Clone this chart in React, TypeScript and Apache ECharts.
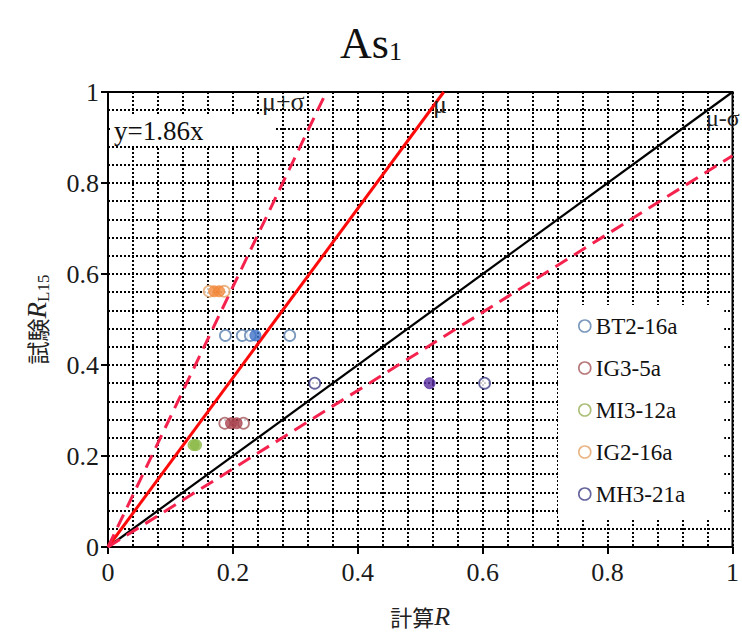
import React, { useEffect, useRef } from "react";
import * as echarts from "echarts";

const SERIF = "'Liberation Serif', 'Times New Roman', 'Noto Sans CJK JP', serif";
const CJK = "'Noto Sans CJK JP', 'Liberation Serif', serif";

// ---- data ----
const sampleNames = ["BT2-16a", "IG3-5a", "MI3-12a", "IG2-16a", "MH3-21a"];
const ringColors = ["#5b7fae", "#a5585a", "#98b05a", "#e3a468", "#3e3f86"];
const fillColors = ["#3e72c8", "#a9434f", "#8dba4a", "#f28a3c", "#5a2ea0"];

const bt2HollowX = [0.188, 0.215, 0.228, 0.291];
const bt2HollowY = [0.465, 0.465, 0.465, 0.465];
const bt2FilledX = [0.236];
const bt2FilledY = [0.465];

const ig3HollowX = [0.187, 0.217];
const ig3HollowY = [0.272, 0.272];
const ig3FilledX = [0.197, 0.206];
const ig3FilledY = [0.272, 0.272];

const mi3HollowX: number[] = [];
const mi3HollowY: number[] = [];
const mi3FilledX = [0.137, 0.141];
const mi3FilledY = [0.224, 0.224];

const ig2HollowX = [0.162, 0.186];
const ig2HollowY = [0.562, 0.562];
const ig2FilledX = [0.170, 0.178];
const ig2FilledY = [0.562, 0.562];

const mh3HollowX = [0.331, 0.603];
const mh3HollowY = [0.36, 0.36];
const mh3FilledX = [0.515];
const mh3FilledY = [0.36];

const hollowX = [bt2HollowX, ig3HollowX, mi3HollowX, ig2HollowX, mh3HollowX];
const hollowY = [bt2HollowY, ig3HollowY, mi3HollowY, ig2HollowY, mh3HollowY];
const filledX = [bt2FilledX, ig3FilledX, mi3FilledX, ig2FilledX, mh3FilledX];
const filledY = [bt2FilledY, ig3FilledY, mi3FilledY, ig2FilledY, mh3FilledY];

// regression slopes
const muSlope = 1.86;
const sigma = 1.0;
const plusSlope = muSlope + sigma;
const minusSlope = muSlope - sigma;

const xTicks = [0, 0.2, 0.4, 0.6, 0.8, 1];

function lineEnd(slope: number): number[][] {
  return slope >= 1 ? [[0, 0], [1 / slope, 1]] : [[0, 0], [1, slope]];
}

export default function App() {
  const ref = useRef<HTMLDivElement>(null);
  useEffect(() => {
    if (!ref.current) return;
    const chart = echarts.init(ref.current, null, { renderer: "svg" });

    const scatterSeries = sampleNames.map((name, i) => {
      const data: any[] = [];
      hollowX[i].forEach((x, k) =>
        data.push({
          value: [x, hollowY[i][k]],
          itemStyle: { color: "#fff", borderColor: ringColors[i], borderWidth: 1.8 },
        })
      );
      filledX[i].forEach((x, k) =>
        data.push({
          value: [x, filledY[i][k]],
          itemStyle: { color: fillColors[i], borderColor: fillColors[i], borderWidth: 1 },
        })
      );
      return {
        name,
        type: "scatter",
        symbol: "circle",
        symbolSize: 11,
        itemStyle: { color: fillColors[i] },
        data,
        z: 5,
      };
    });

    const gridLine = { show: true, lineStyle: { color: "#000", width: 2, type: [2, 2] } };

    const option: any = {
      animation: false,
      backgroundColor: "#fff",
      title: {
        text: "{a|As}{b|1}",
        left: "center",
        top: 12,
        textStyle: {
          fontWeight: "normal",
          rich: {
            a: { fontFamily: SERIF, fontSize: 44, fontWeight: "normal", color: "#111", lineHeight: 48, verticalAlign: "bottom" },
            b: { fontFamily: SERIF, fontSize: 26, fontWeight: "normal", color: "#111", lineHeight: 22, verticalAlign: "bottom" },
          },
        },
      },
      grid: { left: 108, right: 9, top: 92, bottom: 85, show: true, borderColor: "#000", borderWidth: 2 },
      legend: {
        orient: "vertical",
        left: 558,
        top: 305,
        padding: [8, 39, 11, 20],
        backgroundColor: "#fff",
        itemWidth: 12,
        itemHeight: 12,
        itemGap: 16,
        data: sampleNames.map((n, i) => ({
          name: n,
          icon: "circle",
          itemStyle: { color: "#fff", borderColor: ringColors[i], borderWidth: 1.6 },
        })),
        textStyle: { fontFamily: SERIF, fontSize: 23, color: "#111", lineHeight: 24, padding: [2, 0, 0, 0] },
      },
      xAxis: {
        type: "value",
        min: 0,
        max: 1,
        interval: 0.2,
        name: "{a|計算}{b|R}",
        nameLocation: "middle",
        nameGap: 55,
        nameTextStyle: {
          rich: {
            a: { fontFamily: CJK, fontSize: 22, color: "#222", lineHeight: 28 },
            b: { fontFamily: SERIF, fontSize: 26, fontStyle: "italic", color: "#222", lineHeight: 28 },
          },
        },
        axisLine: { show: true, lineStyle: { color: "#000", width: 2 } },
        axisTick: { show: true, inside: false, length: 7, lineStyle: { color: "#000", width: 2 } },
        axisLabel: {
          fontFamily: SERIF,
          fontSize: 26,
          color: "#1a1a1a",
          margin: 12,
          formatter: (v: number) => String(xTicks.find((t) => Math.abs(t - v) < 1e-9) ?? v),
        },
        splitLine: gridLine,
        minorTick: { show: false, splitNumber: 5 },
        minorSplitLine: gridLine,
      },
      yAxis: {
        type: "value",
        min: 0,
        max: 1,
        interval: 0.2,
        name: "{a|試験}{b|R}{c|L15}",
        nameLocation: "middle",
        nameGap: 56,
        nameTextStyle: {
          rich: {
            a: { fontFamily: CJK, fontSize: 23, color: "#222", lineHeight: 30 },
            b: { fontFamily: SERIF, fontSize: 27, fontStyle: "italic", color: "#222", lineHeight: 30 },
            c: { fontFamily: SERIF, fontSize: 17, color: "#222", lineHeight: 13, verticalAlign: "bottom" },
          },
        },
        axisLine: { show: true, lineStyle: { color: "#000", width: 2 } },
        axisTick: { show: true, inside: false, length: 7, lineStyle: { color: "#000", width: 2 } },
        axisLabel: { fontFamily: SERIF, fontSize: 26, color: "#1a1a1a", margin: 9 },
        splitLine: gridLine,
        minorTick: { show: false, splitNumber: 5 },
        minorSplitLine: gridLine,
      },
      graphic: [
        {
          type: "rect",
          z: 10,
          shape: { x: 110, y: 114, width: 165, height: 32 },
          style: { fill: "#fff" },
        },
        {
          type: "text",
          z: 11,
          x: 114,
          y: 131,
          style: {
            text: "y=" + muSlope.toFixed(2) + "x",
            fontFamily: SERIF,
            fontSize: 27,
            fill: "#111",
            verticalAlign: "middle",
          },
        },
        {
          type: "text",
          z: 11,
          x: 262,
          y: 101,
          style: { text: "μ+σ", fontFamily: SERIF, fontSize: 26, fill: "#222", verticalAlign: "middle" },
        },
        {
          type: "text",
          z: 11,
          x: 433,
          y: 104,
          style: { text: "μ", fontFamily: SERIF, fontSize: 26, fill: "#222", verticalAlign: "middle" },
        },
        {
          type: "text",
          z: 11,
          x: 706,
          y: 118,
          style: { text: "μ-σ", fontFamily: SERIF, fontSize: 24, fill: "#222", verticalAlign: "middle" },
        },
      ],
      series: [
        {
          name: "1:1",
          type: "line",
          data: lineEnd(1),
          showSymbol: false,
          silent: true,
          lineStyle: { color: "#000", width: 2.2 },
          z: 3,
        },
        {
          name: "μ",
          type: "line",
          data: lineEnd(muSlope),
          showSymbol: false,
          silent: true,
          lineStyle: { color: "#ff0a0a", width: 3 },
          z: 4,
        },
        {
          name: "μ+σ",
          type: "line",
          data: lineEnd(plusSlope),
          showSymbol: false,
          silent: true,
          lineStyle: { color: "#f5224e", width: 3, type: [14, 8] },
          z: 4,
        },
        {
          name: "μ-σ",
          type: "line",
          data: lineEnd(minusSlope),
          showSymbol: false,
          silent: true,
          lineStyle: { color: "#f5224e", width: 3, type: [14, 8] },
          z: 4,
        },
        ...scatterSeries,
      ],
    };
    chart.setOption(option);
    return () => chart.dispose();
  }, []);

  return (
    <div
      ref={ref}
      style={{ position: "absolute", left: 0, top: 0, width: 742, height: 634, background: "#fff" }}
    />
  );
}
